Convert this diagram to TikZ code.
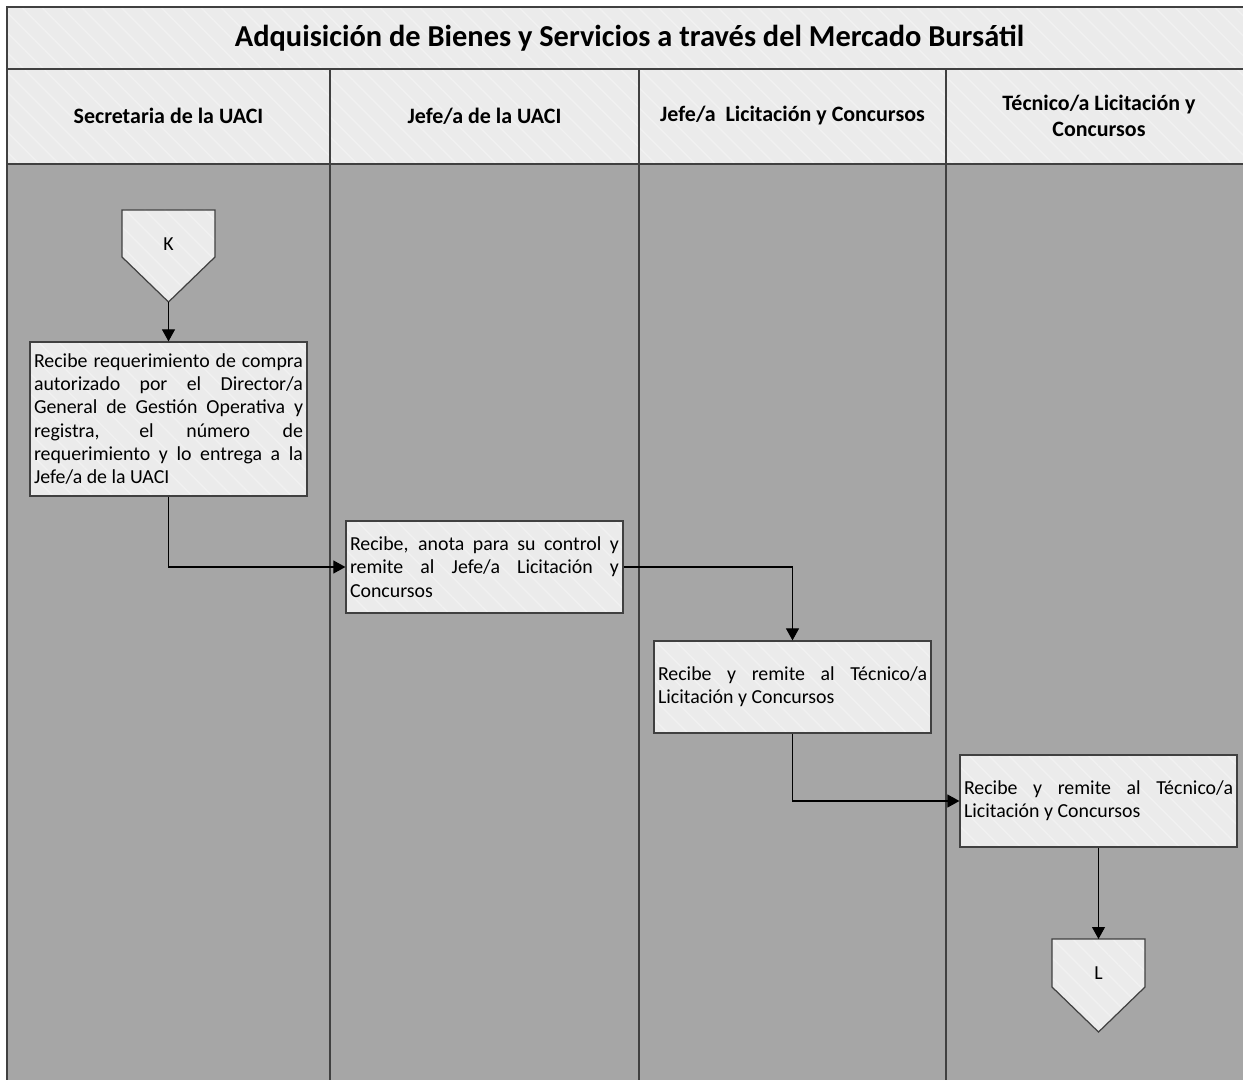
\documentclass[tikz,border=0pt]{standalone}
\usepackage{fontspec}
\setmainfont{Carlito}
\usepackage{tikz}
\usetikzlibrary{positioning, calc, arrows.meta, patterns.meta}

\definecolor{paper}{HTML}{EBEBEB}
\definecolor{hatch}{HTML}{F1F1F1}
\definecolor{laneback}{HTML}{A6A6A6}
\definecolor{edge}{HTML}{404040}

\begin{document}
\begin{tikzpicture}[
        font=\fontsize{11.3}{13.3}\selectfont,
        lane/.style={draw=edge, line width=0.9pt},
        shaded/.style={
            preaction={fill=paper},
            pattern={Lines[angle=-45, distance=8pt, line width=0.8pt]},
            pattern color=hatch
        },
        task/.style={
            shaded, draw=edge, line width=0.7pt,
            minimum width=5.54cm, text width=5.38cm, inner xsep=0.08cm,
            align=justify
        },
        hdr/.style={font=\fontsize{12.5}{15}\selectfont\bfseries, align=center},
        flow/.style={draw=black, line width=0.6pt, -{Triangle[length=0.24cm, width=0.26cm]}},
        offpage/.style={shaded, draw=edge, line width=0.7pt}
    ]

        \useasboundingbox (0,0) rectangle (24.86,21.58);

        % Swimlane frame
        \fill[laneback] (0.14,-0.2) rectangle (25.04,18.30);
        \path[shaded] (0.14,18.30) rectangle (25.04,21.44);
        \draw[lane] (0.14,-0.2) -- (0.14,21.44) -- (25.04,21.44) -- (25.04,-0.2);
        \draw[lane] (0.14,20.20) -- (25.04,20.20);
        \draw[lane] (0.14,18.30) -- (25.04,18.30);
        \foreach \x in {6.60, 12.78, 18.92}
            \draw[lane] (\x,-0.2) -- (\x,20.20);

        % Title and lane headers
        \node[font=\fontsize{17.3}{20}\selectfont\bfseries] (title) at (12.59,20.82)
            {Adquisición de Bienes y Servicios a través del Mercado Bursátil};
        \node[hdr] (hdSecre) at (3.37,19.26) {Secretaria de la UACI};
        \node[hdr] (hdJefeU) at (9.69,19.26) {Jefe/a de la UACI};
        \node[hdr] (hdJefeL) at (15.85,19.26) {Jefe/a~~Licitación y Concursos};
        \node[hdr] (hdTecL) at (21.98,19.26) {Técnico/a Licitación y\\Concursos};

        % Off-page connector K
        \draw[offpage] (2.44,17.38) -- (4.30,17.38) -- (4.30,16.44) -- (3.37,15.54) -- (2.44,16.44) -- cycle;
        \node (K) at (3.37,16.70) {K};
        \coordinate (Ktip) at (3.37,15.54);

        % Tasks
        \node[task, minimum height=3.08cm] (reqCompra) at (3.37,13.20)
            {Recibe requerimiento de compra\linebreak
             autorizado por el Director/a\linebreak
             General de Gestión Operativa y\linebreak
             registra, el número de\linebreak
             requerimiento y lo entrega a la\linebreak
             Jefe/a de la UACI};
        \node[task, minimum height=1.84cm] (anotaCtrl) at (9.69,10.24)
            {Recibe, anota para su control y\linebreak
             remite al Jefe/a Licitación y\linebreak
             Concursos};
        \node[task, minimum height=1.84cm] (remiteJefe) at (15.85,7.84)
            {Recibe y remite al Técnico/a\linebreak
             Licitación y Concursos};
        \node[task, minimum height=1.84cm] (remiteTec) at (21.97,5.56)
            {Recibe y remite al Técnico/a\linebreak
             Licitación y Concursos};

        % Off-page connector L
        \draw[offpage] (21.04,2.80) -- (22.90,2.80) -- (22.90,1.84) -- (21.97,0.94) -- (21.04,1.84) -- cycle;
        \node (L) at (21.97,2.12) {L};
        \coordinate (Ltop) at (21.97,2.80);

        % Flow
        \draw[flow] (Ktip) -- (reqCompra.north);
        \draw[flow] (reqCompra.south) |- (anotaCtrl.west);
        \draw[flow] (anotaCtrl.east) -| (remiteJefe.north);
        \draw[flow] (remiteJefe.south) |- (remiteTec.west);
        \draw[flow] (remiteTec.south) -- (Ltop);

    \end{tikzpicture}
\end{document}
